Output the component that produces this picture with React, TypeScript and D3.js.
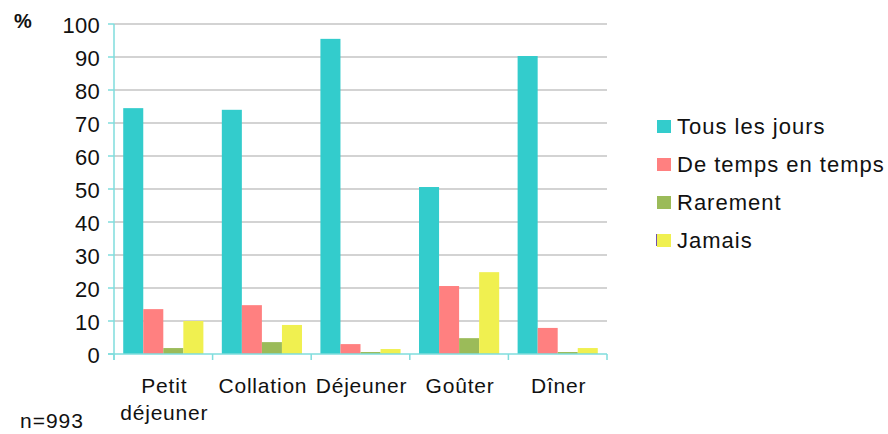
import React from "react";
import * as d3 from "d3";

const categories = [["Petit", "déjeuner"], ["Collation"], ["Déjeuner"], ["Goûter"], ["Dîner"]];
const seriesNames = ["Tous les jours", "De temps en temps", "Rarement", "Jamais"];
const colors = ["#33CCCC", "#FF8080", "#9BBB59", "#F0F050"];
const tousLesJours = [74.5, 74, 95.5, 50.6, 90.3];
const deTempsEnTemps = [13.6, 14.8, 3.0, 20.6, 7.9];
const rarement = [1.8, 3.6, 0.6, 4.8, 0.6];
const jamais = [10.0, 8.8, 1.5, 24.8, 1.8];
const yTicks = [0, 10, 20, 30, 40, 50, 60, 70, 80, 90, 100];

const series = [tousLesJours, deTempsEnTemps, rarement, jamais];

export default function App() {
  const W = 888, H = 434;
  const x0 = 114, x1 = 607, yTop = 24, yBot = 354;
  const y = d3.scaleLinear().domain([0, 100]).range([yBot, yTop]);
  const xBand = d3.scaleBand<number>().domain(d3.range(categories.length)).range([x0, x1]).paddingInner(0).paddingOuter(0);
  const inner = d3.scaleBand<number>().domain(d3.range(4)).range([0, xBand.bandwidth()]).paddingOuter(0.46).paddingInner(0);
  const font = "Liberation Sans, Arial, Helvetica, sans-serif";
  const axisColor = "#7FDDDD";
  return (
    <svg width={W} height={H} style={{ position: "absolute", left: 0, top: 0 }} fontFamily={font}>
      <rect width={W} height={H} fill="#fff" />
      {yTicks.filter(t => t > 0).map(t => (
        <line key={t} x1={x0} x2={x1} y1={y(t)} y2={y(t)} stroke="#A8A8A8" strokeWidth={1.2} />
      ))}
      {categories.map((c, i) =>
        series.map((s, j) => (
          <rect key={i + "-" + j} x={(xBand(i) as number) + (inner(j) as number)} width={inner.bandwidth()}
            y={y(s[i])} height={yBot - y(s[i])} fill={colors[j]} />
        ))
      )}
      <line x1={x0} x2={x0} y1={yTop} y2={yBot + 6} stroke={axisColor} strokeWidth={1.5} />
      <line x1={x0 - 6} x2={x1} y1={yBot} y2={yBot} stroke={axisColor} strokeWidth={1.5} />
      {yTicks.map(t => (
        <g key={t}>
          <line x1={x0 - 6} x2={x0} y1={y(t)} y2={y(t)} stroke={axisColor} strokeWidth={1.5} />
          <text x={100} y={y(t) + 8.5} textAnchor="end" fontSize={22} letterSpacing={0.3} fill="#111">{t}</text>
        </g>
      ))}
      {d3.range(categories.length + 1).map(i => {
        const xx = x0 + i * xBand.bandwidth();
        return <line key={i} x1={xx} x2={xx} y1={yBot} y2={yBot + 6} stroke={axisColor} strokeWidth={1.5} />;
      })}
      {categories.map((c, i) => (
        <text key={i} textAnchor="middle" fontSize={21} letterSpacing={0.8} fill="#111">
          {c.map((line, k) => (
            <tspan key={k} x={(xBand(i) as number) + xBand.bandwidth() / 2 + 1} y={393 + k * 27}>{line}</tspan>
          ))}
        </text>
      ))}
      <text x={14} y={28} fontSize={20} fontWeight="bold" fill="#111">%</text>
      <text x={20} y={428} fontSize={21} letterSpacing={1} fill="#111">n=993</text>
      {seriesNames.map((n, j) => {
        const base = 134 + j * 38;
        return (
          <g key={n}>
            <rect x={657} y={base - 14} width={14} height={13} fill={colors[j]} />
            <text x={677} y={base} fontSize={22} letterSpacing={1} fill="#111">{n}</text>
          </g>
        );
      })}
      <line x1={656.5} x2={656.5} y1={134 + 3 * 38 - 14} y2={134 + 3 * 38 - 2} stroke="#7050B0" strokeWidth={1} />
    </svg>
  );
}
